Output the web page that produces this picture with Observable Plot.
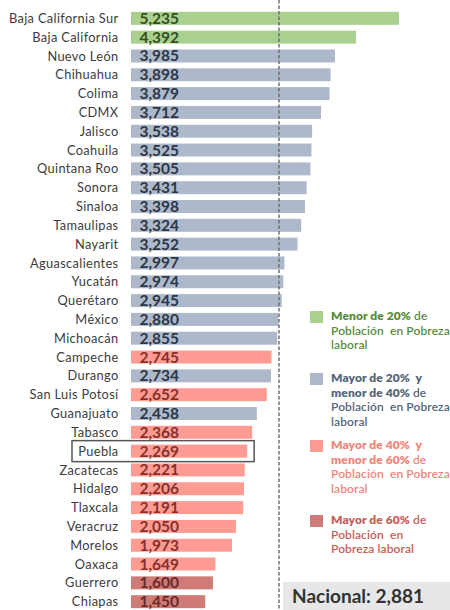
<!DOCTYPE html>
<html><head><meta charset="utf-8">
<script src="https://cdn.jsdelivr.net/npm/d3@7"></script>
<script src="https://cdn.jsdelivr.net/npm/@observablehq/plot@0.6"></script>
<style>
body{margin:0;background:#fff;}
#wrap{position:relative;width:450px;height:610px;overflow:hidden;font-family:Lato,sans-serif;}
#wrap svg{position:absolute;left:0;top:0;}
#wrap svg g[aria-label="y-axis tick label"] text{letter-spacing:0.35px;}
.sw{position:absolute;left:310px;width:13px;height:12px;}
.ln{position:absolute;left:331px;font-size:12px;line-height:14px;height:14px;font-weight:600;white-space:pre;letter-spacing:0.1px;}
.ln .bd{font-weight:800;}
#nac{position:absolute;left:283px;top:582px;width:167px;height:28px;background:#e7e7e7;font-weight:700;font-size:19px;color:#333;line-height:28px;padding-left:9px;box-sizing:border-box;}
</style></head><body><div id="wrap"></div>
<script>
const states = ["Baja California Sur","Baja California","Nuevo León","Chihuahua","Colima","CDMX","Jalisco","Coahuila","Quintana Roo","Sonora","Sinaloa","Tamaulipas","Nayarit","Aguascalientes","Yucatán","Querétaro","México","Michoacán","Campeche","Durango","San Luis Potosí","Guanajuato","Tabasco","Puebla","Zacatecas","Hidalgo","Tlaxcala","Veracruz","Morelos","Oaxaca","Guerrero","Chiapas"];
const values = [5235,4392,3985,3898,3879,3712,3538,3525,3505,3431,3398,3324,3252,2997,2974,2945,2880,2855,2745,2734,2652,2458,2368,2269,2221,2206,2191,2050,1973,1649,1600,1450];
const groups = ["g1","g1","g2","g2","g2","g2","g2","g2","g2","g2","g2","g2","g2","g2","g2","g2","g2","g2","g3","g2","g3","g2","g3","g3","g3","g3","g3","g3","g3","g3","g4","g4"];
const groupKeys = ["g1","g2","g3","g4"];
const barColors = ["#a9d08e","#adb9ca","#ff9b92","#cf7b77"];
const valueTextColors = ["#33501f","#2c3646","#86302a","#6a2a27"];
const legendTextColors = ["#5b8b3c","#56667a","#f0857b","#c5605a"];
// each line: [bold part, regular part]
const legendLines = [
  [["Menor de 20%"," de"],["","Población  en Pobreza"],["","laboral"]],
  [["Mayor de 20%  y",""],["menor de 40%"," de"],["","Población  en Pobreza"],["","laboral"]],
  [["Mayor de 40%  y",""],["menor de 60%"," de"],["","Población  en Pobreza"],["","laboral"]],
  [["Mayor de 60%"," de"],["","Población  en"],["","Pobreza laboral"]]
];
const legendTops = [309, 371, 438, 513];
const nacional = 2881;
const highlight = "Puebla";

const data = states.map((s,i)=>({state:s, value:values[i], group:groups[i]}));
const fmt = d3.format(",");

const plot = Plot.plot({
  width:450, height:610,
  marginLeft:131, marginRight:0, marginTop:0, marginBottom:0,
  x:{domain:[0,6231], axis:null},
  y:{domain:states, range:[6,614], padding:0.31, round:false, label:null},
  color:{domain:groupKeys, range:barColors},
  style:{fontFamily:"Lato, sans-serif", background:"transparent"},
  marks:[
    Plot.axisY({tickSize:0, tickPadding:13, fontSize:12.8, fill:"#3c3c3c", label:null}),
    Plot.barX(data,{x:"value", y:"state", fill:"group"}),
    Plot.ruleX([nacional],{stroke:"#707070", strokeDasharray:"3.5,2", strokeWidth:1.5}),
    ...groupKeys.map((g,k)=>Plot.text(data.filter(d=>d.group===g),{
      x:0, y:"state", text:d=>fmt(d.value), dx:8, textAnchor:"start",
      fill:valueTextColors[k], fontWeight:"bold", fontSize:15.5
    }))
  ]
});

const wrap = document.getElementById("wrap");
wrap.appendChild(plot);

// highlight box around Puebla
const ys = plot.scale("y"), xs = plot.scale("x");
const yPos = ys.apply(highlight), bw = ys.bandwidth;
const xEnd = xs.apply(values[states.indexOf(highlight)]);
const cy = yPos + bw/2;
d3.select(plot).append("rect")
  .attr("x", 72).attr("y", cy - 10.5)
  .attr("width", xEnd + 7 - 72).attr("height", 21)
  .attr("fill","none").attr("stroke","#555").attr("stroke-width",1.5);

// legend
const lineStep = 14.7;
legendLines.forEach((lines,k)=>{
  const sw = document.createElement("div");
  sw.className = "sw";
  sw.style.top = (legendTops[k] + 2) + "px";
  sw.style.background = barColors[k];
  wrap.appendChild(sw);
  lines.forEach((parts,j)=>{
    const ln = document.createElement("div");
    ln.className = "ln";
    ln.style.top = (legendTops[k] + j*lineStep) + "px";
    ln.style.color = legendTextColors[k];
    ln.textContent = "";
    if (parts[0]) { const s = document.createElement("span"); s.className = "bd"; s.textContent = parts[0]; ln.appendChild(s); }
    if (parts[1]) { ln.appendChild(document.createTextNode(parts[1])); }
    wrap.appendChild(ln);
  });
});

const nac = document.createElement("div");
nac.id = "nac";
nac.textContent = "Nacional: " + fmt(nacional);
wrap.appendChild(nac);
</script>
</body></html>
